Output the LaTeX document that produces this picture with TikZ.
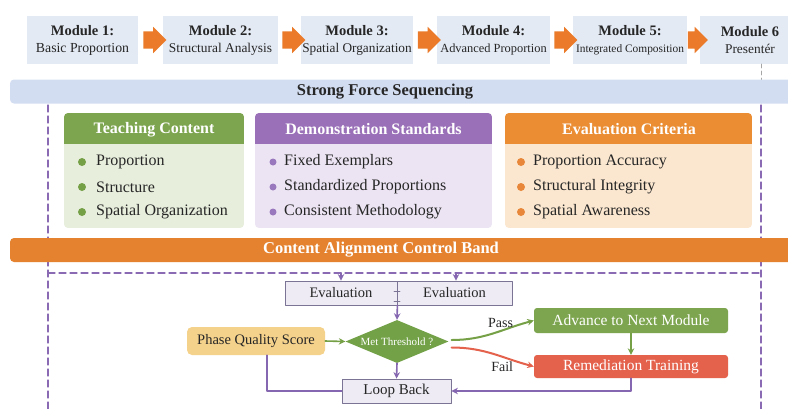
\documentclass[tikz,border=0pt]{standalone}
\usepackage{fontspec}
\setmainfont{Liberation Serif}
\usetikzlibrary{shapes.arrows,shapes.geometric,arrows.meta,calc}

\definecolor{ink}{HTML}{262626}
\definecolor{modfill}{HTML}{E3EAF4}
\definecolor{flow}{HTML}{EB7B2B}
\definecolor{sfband}{HTML}{D3DDF1}
\definecolor{caband}{HTML}{E5822F}
\definecolor{guide}{HTML}{8A6BB3}
\definecolor{tchead}{HTML}{7DA54F}
\definecolor{tcbody}{HTML}{E7EEDC}
\definecolor{tcdot}{HTML}{75A045}
\definecolor{dshead}{HTML}{9A70B8}
\definecolor{dsbody}{HTML}{ECE4F3}
\definecolor{dsdot}{HTML}{9A78BE}
\definecolor{echead}{HTML}{EA8D33}
\definecolor{ecbody}{HTML}{FBE7CF}
\definecolor{ecdot}{HTML}{E8873A}
\definecolor{boxfill}{HTML}{EEEBF5}
\definecolor{boxline}{HTML}{7B7494}
\definecolor{link}{HTML}{8566B0}
\definecolor{pqsfill}{HTML}{F5D28C}
\definecolor{passgreen}{HTML}{72A147}
\definecolor{failred}{HTML}{E4614C}

\begin{document}
\begin{tikzpicture}[
  x=1pt, y=-1pt,
  line cap=round, line join=round,
  >={Stealth[length=6.5pt,width=6.5pt]},
  every node/.style={text=ink, inner sep=0pt, font=\fontsize{14.5}{17}\selectfont},
  module/.style={fill=modfill, minimum height=48, align=center},
  flow/.style={single arrow, fill=flow, inner xsep=0pt, inner ysep=8.5pt, minimum height=23, single arrow head extend=4.5},
  band/.style={rounded corners=4, minimum height=24},
  bandlabel/.style={font=\fontsize{16.5}{18}\selectfont\bfseries},
  panelhead/.style={text=white, font=\fontsize{16}{18}\selectfont\bfseries},
  item/.style={anchor=west, font=\fontsize{16}{18}\selectfont},
  bullet/.style={circle, minimum size=8},
  guideline/.style={draw=guide, line width=1.3pt, dash pattern=on 7pt off 4pt},
  stepbox/.style={draw=boxline, line width=0.8pt, fill=boxfill, minimum height=24},
  link/.style={draw=link, line width=1.6pt},
  decision/.style={diamond, fill=passgreen, aspect=2.4, minimum width=103, minimum height=43, text=white, font=\fontsize{11}{12}\selectfont},
  outcome/.style={rounded corners=3, minimum width=194, text=white, font=\fontsize{15.5}{17}\selectfont},
]
\useasboundingbox (0,0) rectangle (788,408);
\fill[white] (0,0) rectangle (788,408);

\node[module, minimum width=111] (mod1) at (82.5,40) {{\bfseries Module 1:}\\{\fontsize{13.8}{18}\selectfont Basic Proportion}};
\node[module, minimum width=115] (mod2) at (220.5,40) {{\bfseries Module 2:}\\{\fontsize{13.4}{18}\selectfont Structural Analysis}};
\node[module, minimum width=112] (mod3) at (357,40) {{\bfseries Module 3:}\\{\fontsize{13.3}{18}\selectfont Spatial Organization}};
\node[module, minimum width=113] (mod4) at (493.5,40) {{\bfseries Module 4:}\\{\fontsize{12.4}{18}\selectfont Advanced Proportion}};
\node[module, minimum width=114] (mod5) at (630,40) {{\bfseries Module 5:}\\{\fontsize{11.4}{18}\selectfont Integrated Composition}};
\node[module, minimum width=100] (mod6) at (750,40) {{\bfseries Module 6}\\{\fontsize{13.4}{18}\selectfont Presentér}};
\node[flow] (flow12) at ($(mod1.east)!0.5!(mod2.west)$) {};
\node[flow] (flow23) at ($(mod2.east)!0.5!(mod3.west)$) {};
\node[flow] (flow34) at ($(mod3.east)!0.5!(mod4.west)$) {};
\node[flow] (flow45) at ($(mod4.east)!0.5!(mod5.west)$) {};
\node[flow, minimum height=20] (flow56) at ($(mod5.east)!0.5!(mod6.west)$) {};

\coordinate (guideTop) at (761,64);
\coordinate (guideTR) at (761,105);
\coordinate (guideBR) at (761,412);
\coordinate (guideTL) at (48,105);
\coordinate (guideBL) at (48,412);
\coordinate (guideML) at (48,273);
\coordinate (guideMR) at (761,273);
\draw[draw=gray!70, line width=0.6pt, dash pattern=on 4pt off 3pt] (guideTop) -- (guideTR);
\draw[guideline] (guideTR) -- (guideBR);
\draw[guideline] (guideTL) -- (guideBL);
\draw[guideline] (guideML) -- (guideMR);

\node[band, fill=sfband, minimum width=790] (sfBand) at (405,91.5) {};
\node[bandlabel] (sfLabel) at (385,92) {Strong Force Sequencing};

\begin{scope}
\clip[rounded corners=4] (64,113) rectangle (244,228);
\fill[tcbody] (64,113) rectangle (244,228);
\fill[tchead] (64,113) rectangle (244,144);
\end{scope}
\begin{scope}
\clip[rounded corners=4] (255,113) rectangle (492,228);
\fill[dsbody] (255,113) rectangle (492,228);
\fill[dshead] (255,113) rectangle (492,144);
\end{scope}
\begin{scope}
\clip[rounded corners=4] (505,113) rectangle (752,228);
\fill[ecbody] (505,113) rectangle (752,228);
\fill[echead] (505,113) rectangle (752,144);
\end{scope}
\node[panelhead] (tcHead) at (154,129.5) {Teaching Content};
\node[panelhead] (dsHead) at (373.5,129.5) {Demonstration Standards};
\node[panelhead] (ecHead) at (629,129.5) {Evaluation Criteria};

\node[bullet, fill=tcdot] (tcDot1) at (82,162) {};
\node[bullet, fill=tcdot] (tcDot2) at (82,187) {};
\node[bullet, fill=tcdot] (tcDot3) at (82,212) {};
\node[item] (tcItem1) at (96,162) {Proportion};
\node[item] (tcItem2) at (96,187) {Structure};
\node[item] (tcItem3) at (96,212) {Spatial Organization};
\node[bullet, fill=dsdot, minimum size=7] (dsDot1) at (273,162) {};
\node[bullet, fill=dsdot, minimum size=7] (dsDot2) at (273,187) {};
\node[bullet, fill=dsdot, minimum size=7] (dsDot3) at (273,212) {};
\node[item] (dsItem1) at (284,162) {Fixed Exemplars};
\node[item] (dsItem2) at (284,187) {Standardized Proportions};
\node[item] (dsItem3) at (284,212) {Consistent Methodology};
\node[bullet, fill=ecdot] (ecDot1) at (521,162) {};
\node[bullet, fill=ecdot] (ecDot2) at (521,187) {};
\node[bullet, fill=ecdot] (ecDot3) at (521,212) {};
\node[item] (ecItem1) at (533,162) {Proportion Accuracy};
\node[item] (ecItem2) at (533,187) {Structural Integrity};
\node[item] (ecItem3) at (533,212) {Spatial Awareness};

\node[band, fill=caband, minimum width=790] (caBand) at (405,250) {};
\node[bandlabel, text=white] (caLabel) at (381,250) {Content Alignment Control Band};

\node[stepbox, minimum width=112] (evalL) at (341,293) {Evaluation};
\node[stepbox, minimum width=115] (evalR) at (454.5,293) {Evaluation};
\draw[draw=boxline, line width=0.8pt] (394,291) -- (400,291);
\draw[draw=boxline, line width=0.8pt] (394,301) -- (400,301);
\node[decision] (thr) at (397,341.5) {Met Threshold ?};
\node[rounded corners=5, fill=pqsfill, minimum width=138, minimum height=28] (pqs) at (256,341) {Phase Quality Score};
\node[stepbox, minimum width=109, font=\fontsize{15}{17}\selectfont] (loop) at (396.5,391) {Loop Back};
\node[outcome, fill=tchead, minimum height=25] (adv) at (631,320.5) {Advance to Next Module};
\node[outcome, fill=failred, minimum height=23] (rem) at (631,366.5) {Remediation Training};

\coordinate (tapL) at (341,273);
\coordinate (tapR) at (456,273);
\draw[link, ->] (tapL) -- (evalL.north);
\draw[link, ->] (tapR) -- (evalR.north -| tapR);
\draw[link, ->] (evalL.south east) -- (thr.north);
\draw[link, ->] (thr.south) -- (loop.north);
\draw[draw=tcdot, line width=1.6pt, ->] (pqs.east) -- (thr.west);
\draw[draw=tcdot, line width=1.6pt, ->] (adv.south) -- (rem.north);
\draw[draw=tcdot, line width=2pt, ->] ($(thr.east)+(3,-1.5)$) to[out=0, in=195] node[pos=0.6, above=2.5pt, font=\fontsize{14}{16}\selectfont] (passLabel) {Pass} (adv.west);
\draw[draw=failred, line width=2pt, ->] ($(thr.east)+(3,6)$) to[out=0, in=165] node[pos=0.62, below=4pt, font=\fontsize{14}{16}\selectfont] (failLabel) {Fail} (rem.west);
\draw[link] ($(pqs.south)+(11,0)$) |- (loop.west);
\draw[link, ->] (rem.south) |- (loop.east);
\end{tikzpicture}
\end{document}
